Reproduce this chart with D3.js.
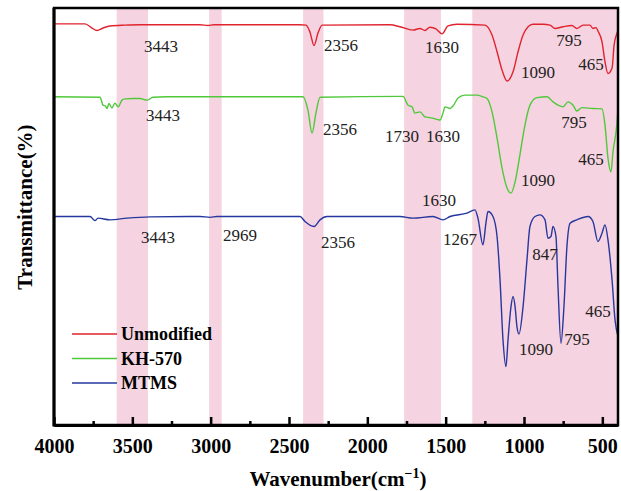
<!DOCTYPE html>
<html>
<head>
<meta charset="utf-8">
<script src="https://cdn.jsdelivr.net/npm/d3@7"></script>
<style>
  html, body { margin: 0; padding: 0; background: #fff; }
  svg { display: block; }
  svg text { font-family: "Liberation Serif", "Times New Roman", Times, "DejaVu Serif", serif; }
</style>
</head>
<body>
<svg id="chart" width="621" height="491"></svg>
<script>
// FTIR spectra of silica samples: [wavenumber (cm-1), transmittance (a.u., offset)]
const unmodified = [
  [4000, 96.2], [3802, 96.2], [3757, 95.2], [3726, 94.6], [3687, 95.2], [3643, 95.7],
  [3547, 95.9], [3451, 96.0], [3068, 96.0], [3017, 95.8], [2979, 96.0], [2430, 96.0],
  [2391, 95.9], [2366, 94.2], [2340, 91.0], [2315, 94.0], [2289, 95.9], [1855, 96.0],
  [1792, 95.5], [1708, 94.7], [1664, 95.1], [1632, 94.6], [1600, 95.4], [1562, 95.0],
  [1523, 93.8], [1485, 95.7], [1428, 96.1], [1249, 95.9], [1204, 93.5], [1172, 89.5],
  [1140, 85.1], [1108, 82.5], [1070, 84.7], [1038, 89.5], [1006, 93.5], [974, 95.5],
  [943, 96.1], [879, 96.1], [834, 95.9], [802, 95.1], [751, 95.5], [694, 95.8],
  [662, 95.1], [623, 95.9], [579, 95.9], [560, 95.1], [540, 95.3], [528, 94.5],
  [502, 91.9], [483, 87.1], [464, 84.3], [438, 85.6], [425, 91.1], [406, 94.0], [400, 94.7]
];
const kh570 = [
  [4000, 78.7], [3706, 78.6], [3687, 76.7], [3671, 76.5], [3662, 75.9], [3649, 77.1],
  [3630, 76.0], [3611, 77.2], [3591, 76.3], [3566, 77.9], [3547, 78.2], [3496, 78.3],
  [3451, 78.3], [3406, 77.9], [3368, 78.6], [3279, 78.7], [2411, 78.7], [2379, 75.5],
  [2353, 70.0], [2328, 74.8], [2302, 78.6], [1772, 78.8], [1740, 76.7], [1715, 76.3],
  [1696, 74.8], [1664, 75.1], [1632, 73.9], [1600, 73.7], [1555, 73.3], [1536, 73.1],
  [1517, 74.8], [1504, 76.3], [1472, 75.9], [1453, 76.5], [1421, 78.4], [1377, 79.1],
  [1300, 79.1], [1262, 78.7], [1236, 78.3], [1204, 75.1], [1172, 68.8], [1140, 61.6],
  [1108, 56.8], [1083, 55.6], [1057, 58.3], [1026, 64.8], [994, 71.9], [962, 76.7],
  [917, 78.5], [853, 78.7], [815, 77.5], [783, 76.7], [751, 76.3], [719, 77.5],
  [687, 76.7], [662, 75.3], [630, 76.1], [560, 75.9], [502, 75.8], [483, 71.9],
  [464, 64.0], [445, 60.7], [432, 65.5], [406, 72.7], [400, 76.0]
];
const mtms = [
  [4000, 50.0], [3770, 50.0], [3738, 49.0], [3719, 49.6], [3643, 49.2], [3534, 49.6],
  [3387, 49.9], [3068, 50.0], [3004, 49.8], [2960, 50.0], [2430, 50.0], [2398, 48.8],
  [2340, 47.6], [2302, 49.2], [2257, 50.0], [1792, 50.0], [1708, 49.6], [1581, 50.0],
  [1517, 49.2], [1472, 50.0], [1364, 50.8], [1313, 51.6], [1294, 49.6], [1262, 43.2],
  [1243, 48.4], [1230, 51.2], [1198, 50.0], [1172, 45.2], [1153, 34.8], [1134, 20.4],
  [1115, 14.0], [1102, 20.4], [1083, 28.4], [1070, 30.8], [1057, 28.4], [1045, 23.6],
  [1032, 21.8], [1006, 28.4], [981, 39.6], [962, 47.6], [930, 50.0], [898, 50.4],
  [866, 49.2], [847, 44.8], [828, 45.2], [815, 47.6], [796, 45.2], [783, 33.2],
  [764, 19.6], [745, 28.4], [726, 42.8], [706, 48.4], [662, 49.2], [591, 50.0],
  [560, 48.8], [528, 44.0], [502, 46.0], [483, 48.0], [464, 44.4], [438, 34.8],
  [419, 25.2], [400, 21.2]
];

// highlighted absorption regions [from, to] in cm-1
const bands = [[3600, 3400], [3010, 2930], [2410, 2280], [1765, 1530], [1330, 400]];

// peak annotations: [text, wavenumber at label centre, transmittance at baseline]
const peakLabels = [
  ["3443", 3317, 89.4], ["2356", 2168, 89.7], ["1630", 1523, 89.2],
  ["1090", 911, 83.2], ["795", 713, 90.9], ["465", 572, 85.1],
  ["3443", 3304, 72.9], ["2356", 2174, 69.5], ["1730", 1779, 67.8], ["1630", 1517, 67.8],
  ["795", 681, 71.2], ["465", 572, 62.3], ["1090", 911, 57.3],
  ["3443", 3336, 43.6], ["2969", 2813, 44.1], ["2356", 2187, 42.4], ["1630", 1543, 52.5],
  ["1267", 1409, 43.2], ["847", 866, 39.6], ["1090", 923, 16.8], ["795", 662, 19.2],
  ["465", 528, 25.9]
];

const seriesNames = ["Unmodified", "KH-570", "MTMS"];
const seriesColors = ["#e0232e", "#4fc93a", "#26379f"];
const seriesData = [unmodified, kh570, mtms];

const xTicks = [4000, 3500, 3000, 2500, 2000, 1500, 1000, 500];
const xMinorTicks = [3750, 3250, 2750, 2250, 1750, 1250, 750];

const svg = d3.select("#chart");
const plotL = 54, plotR = 618, plotT = 8, plotB = 425;

const x = d3.scaleLinear().domain([4000, 400]).range([plotL, plotR]);
const y = d3.scaleLinear().domain([0, 100]).range([plotB, plotT]);

// shaded bands
svg.append("g").selectAll("rect").data(bands).join("rect")
  .attr("x", d => x(d[0]))
  .attr("width", d => x(d[1]) - x(d[0]))
  .attr("y", plotT)
  .attr("height", plotB - plotT)
  .attr("fill", "#f6d3e0");

// spectra
const line = d3.line()
  .x(d => x(d[0]))
  .y(d => y(d[1]))
  .curve(d3.curveMonotoneX);

svg.append("g").selectAll("path").data(seriesData).join("path")
  .attr("d", line)
  .attr("fill", "none")
  .attr("stroke", (d, i) => seriesColors[i])
  .attr("stroke-width", 1.4);

// peak labels
svg.append("g").selectAll("text").data(peakLabels).join("text")
  .attr("x", d => x(d[1]))
  .attr("y", d => y(d[2]))
  .attr("text-anchor", "middle")
  .style("font-size", "17px")
  .attr("fill", "#222")
  .text(d => d[0]);

// frame
svg.append("rect")
  .attr("x", plotL).attr("y", plotT)
  .attr("width", plotR - plotL).attr("height", plotB - plotT)
  .attr("fill", "none").attr("stroke", "#000").attr("stroke-width", 2.5);

// bottom axis with inward ticks
const xAxis = svg.append("g")
  .attr("transform", `translate(0,${plotB})`)
  .call(d3.axisBottom(x).tickValues(xTicks).tickSizeInner(-8).tickSizeOuter(0).tickPadding(14).tickFormat(d3.format("d")));
xAxis.attr("font-family", null).attr("font-size", null);
xAxis.select(".domain").attr("stroke-width", 3);
xAxis.selectAll(".tick line").attr("stroke-width", 2.5);
xAxis.selectAll("text")
  .style("font-weight", "bold")
  .style("font-size", "20px")
  .attr("fill", "#000");

const xMinor = svg.append("g")
  .attr("transform", `translate(0,${plotB})`)
  .call(d3.axisBottom(x).tickValues(xMinorTicks).tickSizeInner(-4).tickSizeOuter(0).tickFormat(""));
xMinor.select(".domain").remove();
xMinor.selectAll(".tick line").attr("stroke-width", 2.5);

// left axis line
svg.append("line")
  .attr("x1", plotL).attr("x2", plotL).attr("y1", plotT).attr("y2", plotB + 1.5)
  .attr("stroke", "#000").attr("stroke-width", 3);

// axis titles
const xTitle = svg.append("text")
  .attr("x", 338).attr("y", 486)
  .attr("text-anchor", "middle")
  .style("font-weight", "bold")
  .style("font-size", "21px");
xTitle.append("tspan").text("Wavenumber(cm");
xTitle.append("tspan").attr("dy", -8).style("font-size", "14px").text("\u22121");
xTitle.append("tspan").attr("dy", 8).text(")");

svg.append("text")
  .attr("transform", "translate(32,207) rotate(-90)")
  .attr("text-anchor", "middle")
  .style("font-weight", "bold")
  .style("font-size", "21px")
  .text("Transmittance(%)");

// legend
const legend = svg.append("g").selectAll("g").data(seriesNames).join("g")
  .attr("transform", (d, i) => `translate(72,${334 + i * 24.5})`);
legend.append("line")
  .attr("x1", 0).attr("x2", 45)
  .attr("stroke", (d, i) => seriesColors[i])
  .attr("stroke-width", 1.5);
legend.append("text")
  .attr("x", 49).attr("y", 6)
  .style("font-weight", "bold")
  .style("font-size", "18px")
  .text(d => d);
</script>
</body>
</html>
